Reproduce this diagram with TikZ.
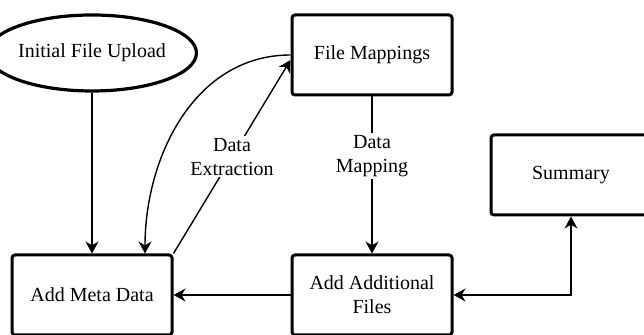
\documentclass[tikz,border=0pt]{standalone}
\usepackage{fontspec}
\setmainfont{Liberation Serif}
\usetikzlibrary{shapes.geometric,arrows.meta}

\tikzset{
	stage/.style={draw, line width=1.5pt, rounded corners=1.5pt, minimum width=80pt, minimum height=40pt, align=center, font=\normalsize},
	start/.style={draw, ellipse, line width=1.6pt, minimum width=80pt, minimum height=38pt, inner sep=0pt, font=\normalsize},
	flow/.style={line width=0.7pt},
	lbl/.style={fill=white, align=center, font=\normalsize, inner sep=1pt}
}

\begin{document}
\begin{tikzpicture}[x=0.5pt,y=-0.5pt,>={Stealth[length=6pt,width=6.5pt]}]
	\useasboundingbox (0,0) rectangle (644,335);
	\node[start] at (92,53) (upload) {Initial File Upload};
	\node[stage] at (372,55) (mappings) {File Mappings};
	\node[stage] at (571,175) (summary) {Summary};
	\node[stage] at (92,295) (meta) {Add Meta Data};
	\node[stage] at (372,295) (additional) {Add Additional\\Files};
	\draw[flow,->] (upload) to (meta);
	\draw[flow,->] (mappings.west) to[out=180,in=90] ([xshift=26.5pt]meta.north);
	\draw[flow,->] (meta.north east) to node[lbl]{Data\\Extraction} ([yshift=-2.5pt]mappings.west);
	\draw[flow,->] (mappings) to node[lbl,pos=0.38]{Data\\Mapping} (additional);
	\draw[flow,->] (additional) to (meta);
	\draw[flow,<->] (additional.east) -| (summary.south);
\end{tikzpicture}
\end{document}
